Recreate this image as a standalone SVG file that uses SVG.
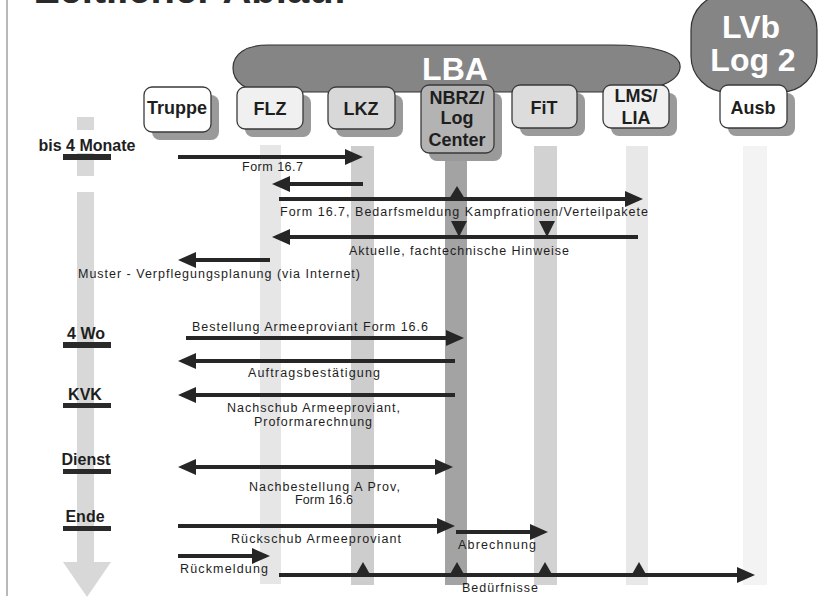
<svg xmlns="http://www.w3.org/2000/svg" width="836" height="599" viewBox="0 0 836 599">
<style>
.box{stroke:#3a3a3a;stroke-width:1.3}
.shadow{fill:#9a9a9a}
.nl{font-family:"Liberation Sans",Arial,sans-serif;font-weight:bold;font-size:18px;fill:#1e1e1e;text-anchor:middle}
.big{font-family:"Liberation Sans",Arial,sans-serif;font-weight:bold;font-size:32px;fill:#ffffff;text-anchor:middle}
.tl{font-family:"Liberation Sans",Arial,sans-serif;font-weight:bold;font-size:16px;fill:#1e1e1e;text-anchor:middle}
.lbl{font-family:"Liberation Sans",Arial,sans-serif;font-size:12.5px;fill:#1e1e1e}
.arr{stroke:#262626;stroke-width:4;fill:none}
.tri{fill:#262626}
.bar{fill:#2a2a2a}
.grp{fill:#858585;stroke:#333;stroke-width:1.2}
</style>
<defs>
<marker id="ah" markerUnits="userSpaceOnUse" markerWidth="18" markerHeight="16" refX="14" refY="8" orient="auto-start-reverse">
<path d="M0,0 L18,8 L0,16 Z" fill="#262626"/>
</marker>
</defs>
<rect width="836" height="599" fill="#ffffff"/>
<line x1="7" y1="0" x2="7" y2="596" stroke="#8a8a8a" stroke-width="1.2"/>
<text x="35" y="3" font-family="Liberation Sans, Arial, sans-serif" font-weight="bold" font-size="40" fill="#2a2a2a">Zeitlicher Ablauf</text>

<!-- time axis -->
<g id="timeaxis">
<rect x="77" y="117" width="17" height="13" fill="#d8d8d8"/>
<rect x="77" y="153" width="17" height="23" fill="#d8d8d8"/>
<rect x="77" y="192" width="17" height="372" fill="#d8d8d8"/>
<polygon points="63,562 111,562 87,597" fill="#d8d8d8"/>
<rect class="bar" x="63" y="154" width="48" height="6"/>
<text class="tl" x="87" y="151">bis 4 Monate</text>
<rect class="bar" x="63" y="342" width="48" height="6"/>
<text class="tl" x="86" y="339">4 Wo</text>
<rect class="bar" x="63" y="403" width="48" height="5"/>
<text class="tl" x="85" y="400">KVK</text>
<rect class="bar" x="63" y="469" width="48" height="5"/>
<text class="tl" x="86" y="465">Dienst</text>
<rect class="bar" x="63" y="526" width="48" height="5"/>
<text class="tl" x="85" y="522">Ende</text>
</g>

<!-- group shapes -->
<g id="lba">
<path class="grp" d="M268,45 L612,45 C650,45 682,52 680,68 C678,84 650,92 612,92 L268,92 C246,92 233,82 233,68 C233,54 246,45 268,45 Z"/>
<text class="big" x="455" y="80">LBA</text>
</g>
<g id="lvb">
<rect class="grp" x="691" y="-6" width="126" height="98" rx="36"/>
<text class="big" x="751" y="38" font-size="30">LVb</text>
<text class="big" x="753" y="71" font-size="30">Log 2</text>
</g>

<!-- lifelines -->
<g id="lifelines">
<rect x="260" y="145" width="21" height="439" fill="#e6e6e6"/>
<rect x="351" y="146" width="23" height="439" fill="#cdcdcd"/>
<rect x="445" y="150" width="22" height="435" fill="#a3a3a3"/>
<rect x="534" y="146" width="23" height="439" fill="#d2d2d2"/>
<rect x="626" y="146" width="22" height="439" fill="#e8e8e8"/>
<rect x="743" y="146" width="24" height="439" fill="#f3f3f3"/>
</g>

<!-- nodes -->
<g id="truppe">
<rect class="shadow" x="152" y="95" width="67" height="45" rx="8"/>
<rect class="box" x="144" y="87" width="67" height="45" rx="8" fill="#ffffff"/>
<text class="nl" x="177" y="114">Truppe</text>
</g>
<g id="flz">
<rect class="shadow" x="245" y="95" width="66" height="42" rx="8"/>
<rect class="box" x="237" y="87" width="66" height="42" rx="8" fill="#f0f0f0"/>
<text class="nl" x="270" y="115">FLZ</text>
</g>
<g id="lkz">
<rect class="shadow" x="336" y="95" width="67" height="42" rx="8"/>
<rect class="box" x="328" y="87" width="67" height="42" rx="8" fill="#d8d8d8"/>
<text class="nl" x="361" y="115">LKZ</text>
</g>
<g id="nbrz">
<rect class="shadow" x="429" y="93" width="73" height="68" rx="8"/>
<rect class="box" x="421" y="85" width="73" height="68" rx="8" fill="#b3b3b3"/>
<text class="nl" x="457" y="104">NBRZ/</text>
<text class="nl" x="457" y="124">Log</text>
<text class="nl" x="457" y="146">Center</text>
</g>
<g id="fit">
<rect class="shadow" x="520" y="93" width="65" height="43" rx="8"/>
<rect class="box" x="512" y="85" width="65" height="43" rx="8" fill="#dcdcdc"/>
<text class="nl" x="544" y="114">FiT</text>
</g>
<g id="lms">
<rect class="shadow" x="611" y="93" width="66" height="43" rx="8"/>
<rect class="box" x="603" y="85" width="66" height="43" rx="8" fill="#f0f0f0"/>
<text class="nl" x="636" y="102">LMS/</text>
<text class="nl" x="636" y="124">LIA</text>
</g>
<g id="ausb">
<rect class="shadow" x="728" y="93" width="67" height="43" rx="8"/>
<rect class="box" x="720" y="85" width="67" height="43" rx="8" fill="#ffffff"/>
<text class="nl" x="753" y="114">Ausb</text>
</g>

<!-- connectors -->
<g id="connectors">
<line class="arr" x1="178" y1="157" x2="359" y2="157" marker-end="url(#ah)"/>
<line class="arr" x1="363" y1="184" x2="276" y2="184" marker-end="url(#ah)"/>
<line class="arr" x1="279" y1="199" x2="639" y2="199" marker-end="url(#ah)"/>
<polygon class="tri" points="449,199 465,199 457,186"/>
<line class="arr" x1="638" y1="237" x2="276" y2="237" marker-end="url(#ah)"/>
<polygon class="tri" points="451,221 467,221 459,237"/>
<polygon class="tri" points="539,221 555,221 547,237"/>
<line class="arr" x1="270" y1="260" x2="182" y2="260" marker-end="url(#ah)"/>
<line class="arr" x1="186" y1="338" x2="460" y2="338" marker-end="url(#ah)"/>
<line class="arr" x1="455" y1="361" x2="182" y2="361" marker-end="url(#ah)"/>
<line class="arr" x1="455" y1="395" x2="182" y2="395" marker-end="url(#ah)"/>
<line class="arr" x1="182" y1="467" x2="449" y2="467" marker-start="url(#ah)" marker-end="url(#ah)"/>
<line class="arr" x1="178" y1="526" x2="451" y2="526" marker-end="url(#ah)"/>
<line class="arr" x1="456" y1="532" x2="544" y2="532" marker-end="url(#ah)"/>
<line class="arr" x1="178" y1="556" x2="266" y2="556" marker-end="url(#ah)"/>
<line class="arr" x1="279" y1="575" x2="751" y2="575" marker-end="url(#ah)"/>
<polygon class="tri" points="355,576 371,576 363,562"/>
<polygon class="tri" points="449,576 465,576 457,562"/>
<polygon class="tri" points="537,576 553,576 545,562"/>
<polygon class="tri" points="631,576 647,576 639,562"/>

<text class="lbl" x="242" y="171" textLength="61" lengthAdjust="spacing">Form 16.7</text>
<text class="lbl" x="280" y="216" textLength="368" lengthAdjust="spacing">Form 16.7, Bedarfsmeldung  Kampfrationen/Verteilpakete</text>
<text class="lbl" x="349" y="255" textLength="220" lengthAdjust="spacing">Aktuelle, fachtechnische Hinweise</text>
<text class="lbl" x="78" y="278" textLength="282" lengthAdjust="spacing">Muster - Verpflegungsplanung (via Internet)</text>
<text class="lbl" x="192" y="331" textLength="236" lengthAdjust="spacing">Bestellung Armeeproviant Form 16.6</text>
<text class="lbl" x="248" y="377" textLength="132" lengthAdjust="spacing">Auftragsbestätigung</text>
<text class="lbl" x="227" y="412" textLength="173" lengthAdjust="spacing">Nachschub Armeeproviant,</text>
<text class="lbl" x="254" y="426" textLength="118" lengthAdjust="spacing">Proformarechnung</text>
<text class="lbl" x="249" y="491" textLength="151" lengthAdjust="spacing">Nachbestellung A Prov,</text>
<text class="lbl" x="295" y="504" textLength="58" lengthAdjust="spacing">Form 16.6</text>
<text class="lbl" x="231" y="543" textLength="170" lengthAdjust="spacing">Rückschub Armeeproviant</text>
<text class="lbl" x="458" y="549" textLength="78" lengthAdjust="spacing">Abrechnung</text>
<text class="lbl" x="180" y="573" textLength="88" lengthAdjust="spacing">Rückmeldung</text>
<text class="lbl" x="462" y="592" textLength="76" lengthAdjust="spacing">Bedürfnisse</text>
</g>
</svg>
